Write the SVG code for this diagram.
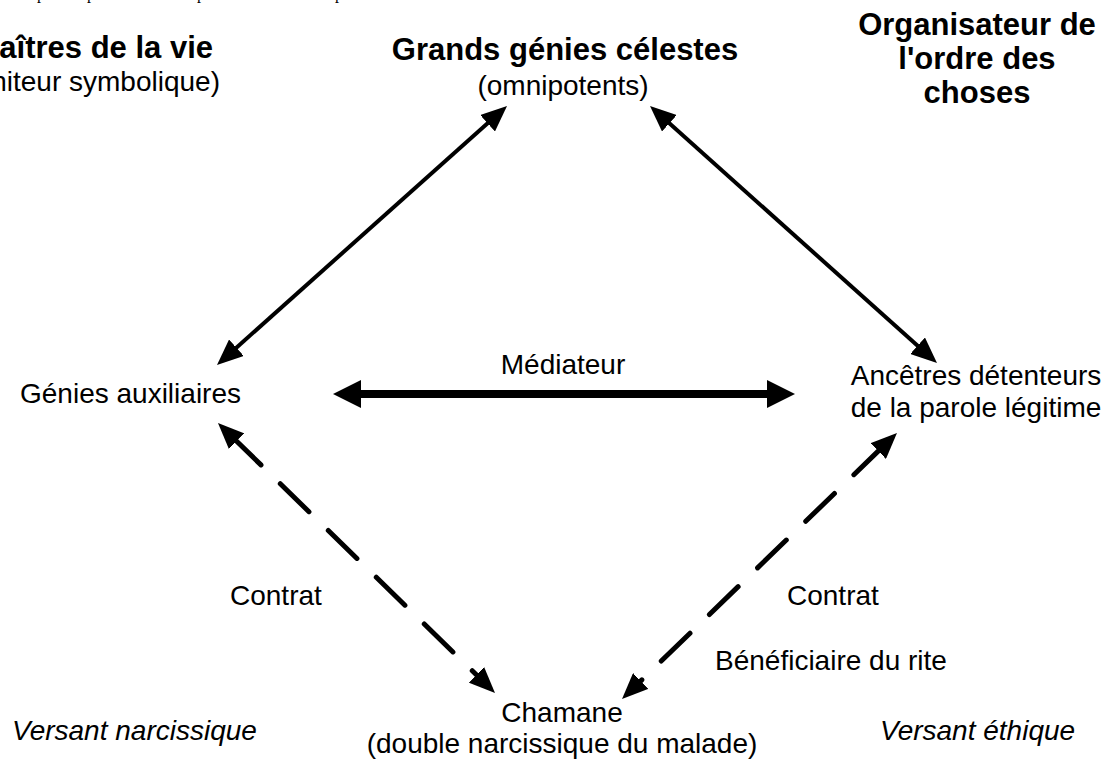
<svg xmlns="http://www.w3.org/2000/svg" width="1109" height="763" viewBox="0 0 1109 763">
<style>
  text { font-family: "Liberation Sans", Arial, sans-serif; fill: #000; }
  .b { font-weight: bold; font-size: 31px; }
  .r { font-size: 28px; }
  .i { font-size: 28px; font-style: italic; }
  .frag { font-family: "Liberation Serif", "Times New Roman", serif; font-size: 16px; }
  .solid { stroke: #000; stroke-width: 4; fill: none; }
  .thick { stroke: #000; stroke-width: 8; fill: none; }
  .dash { stroke: #000; stroke-width: 5; fill: none; stroke-dasharray: 40 27; stroke-linecap: round; }
</style>
<defs>
  <marker id="ah" viewBox="0 0 26 22" refX="6" refY="11" markerWidth="26" markerHeight="22" markerUnits="userSpaceOnUse" orient="auto-start-reverse">
    <path d="M0,0 L26,11 L0,22 z" fill="#000"/>
  </marker>
  <marker id="ahb" viewBox="0 0 28 28" refX="6" refY="14" markerWidth="28" markerHeight="28" markerUnits="userSpaceOnUse" orient="auto-start-reverse">
    <path d="M0,0 L28,14 L0,28 z" fill="#000"/>
  </marker>
</defs>
<rect width="1109" height="763" fill="#fff"/>

<g id="page-fragments">
  <text class="frag" x="37" y="-1">p</text>
  <text class="frag" x="87" y="-1">p</text>
  <text class="frag" x="197" y="-1">p</text>
  <text class="frag" x="335" y="-1">p</text>
</g>

<g id="connectors">
  <line class="solid" x1="231.9" y1="351.7" x2="492.1" y2="119.3" marker-start="url(#ah)" marker-end="url(#ah)"/>
  <line class="solid" x1="664.9" y1="119.3" x2="922.1" y2="349.7" marker-start="url(#ah)" marker-end="url(#ah)"/>
  <line class="thick" x1="355" y1="394" x2="773" y2="394" marker-start="url(#ahb)" marker-end="url(#ahb)"/>
  <line class="dash" x1="232.3" y1="437" x2="480.7" y2="679" marker-start="url(#ah)" marker-end="url(#ah)"/>
  <line class="dash" x1="882.6" y1="446.9" x2="636.4" y2="685.1" marker-start="url(#ah)" marker-end="url(#ah)"/>
</g>

<g id="maitres">
  <text class="b" x="213" y="58" text-anchor="end">Maîtres de la vie</text>
  <text class="r" x="220" y="91" text-anchor="end">(Géniteur symbolique)</text>
</g>

<g id="grands-genies">
  <text class="b" x="565" y="60" text-anchor="middle">Grands génies célestes</text>
  <text class="r" x="563" y="95" text-anchor="middle">(omnipotents)</text>
</g>

<g id="organisateur">
  <text class="b" x="977" y="35" text-anchor="middle">Organisateur de</text>
  <text class="b" x="977" y="69" text-anchor="middle">l'ordre des</text>
  <text class="b" x="977" y="103" text-anchor="middle">choses</text>
</g>

<g id="genies-auxiliaires">
  <text class="r" x="20" y="403">Génies auxiliaires</text>
</g>

<g id="mediateur">
  <text class="r" x="563" y="374" text-anchor="middle">Médiateur</text>
</g>

<g id="ancetres">
  <text class="r" x="976" y="385" text-anchor="middle">Ancêtres détenteurs</text>
  <text class="r" x="976" y="417" text-anchor="middle">de la parole légitime</text>
</g>

<g id="contrat-gauche">
  <text class="r" x="230" y="605">Contrat</text>
</g>

<g id="contrat-droite">
  <text class="r" x="787" y="605">Contrat</text>
</g>

<g id="beneficiaire">
  <text class="r" x="715" y="670">Bénéficiaire du rite</text>
</g>

<g id="chamane">
  <text class="r" x="562" y="722" text-anchor="middle">Chamane</text>
  <text class="r" x="562" y="753" text-anchor="middle">(double narcissique du malade)</text>
</g>

<g id="versant-narcissique">
  <text class="i" x="12" y="740">Versant narcissique</text>
</g>

<g id="versant-ethique">
  <text class="i" x="880" y="740">Versant éthique</text>
</g>
</svg>
